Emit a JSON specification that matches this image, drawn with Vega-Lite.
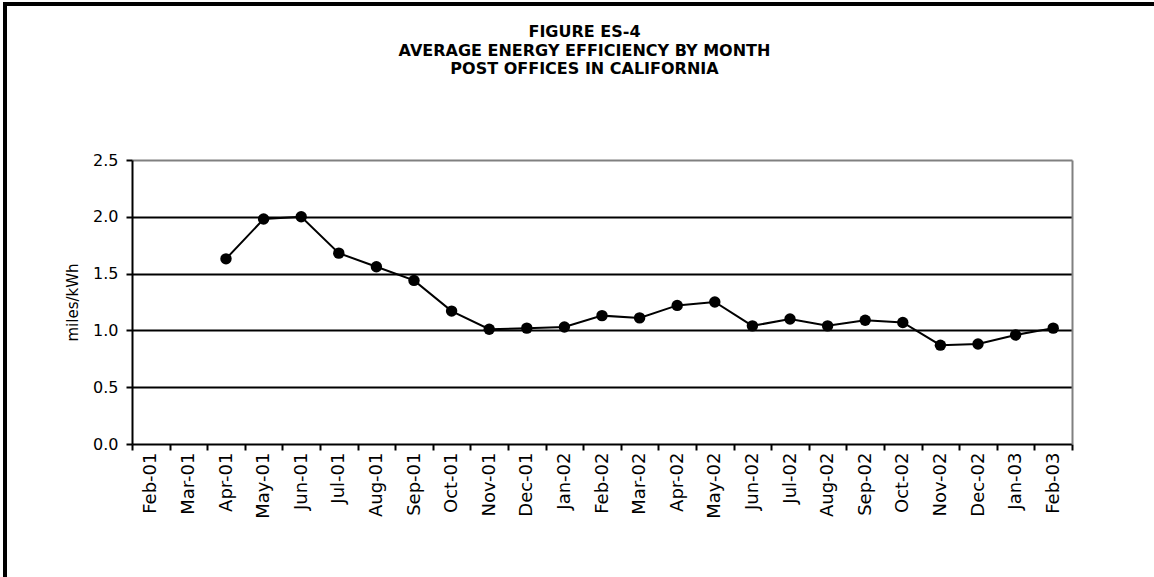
{
  "$schema": "https://vega.github.io/schema/vega-lite/v6.json",
  "width": 1151,
  "height": 575,
  "autosize": {"type": "none"},
  "padding": {"left": 5, "top": 4, "right": -2, "bottom": -2},
  "background": "white",
  "config": {
    "view": {"stroke": "black", "strokeWidth": 4, "fill": "white"},
    "font": "DejaVu Sans"
  },
  "title": {
    "text": ["FIGURE ES-4", "AVERAGE ENERGY EFFICIENCY BY MONTH", "POST OFFICES IN CALIFORNIA"],
    "anchor": "middle",
    "frame": "group",
    "font": "DejaVu Sans",
    "fontSize": 16,
    "fontWeight": "bold",
    "color": "black",
    "lineHeight": 18.5,
    "offset": -73,
    "dx": 4
  },
  "data": {
    "values": [
      {"month": "Feb-01", "efficiency": null},
      {"month": "Mar-01", "efficiency": null},
      {"month": "Apr-01", "efficiency": 1.63},
      {"month": "May-01", "efficiency": 1.98},
      {"month": "Jun-01", "efficiency": 2.00},
      {"month": "Jul-01", "efficiency": 1.68},
      {"month": "Aug-01", "efficiency": 1.56},
      {"month": "Sep-01", "efficiency": 1.44},
      {"month": "Oct-01", "efficiency": 1.17},
      {"month": "Nov-01", "efficiency": 1.01},
      {"month": "Dec-01", "efficiency": 1.02},
      {"month": "Jan-02", "efficiency": 1.03},
      {"month": "Feb-02", "efficiency": 1.13},
      {"month": "Mar-02", "efficiency": 1.11},
      {"month": "Apr-02", "efficiency": 1.22},
      {"month": "May-02", "efficiency": 1.25},
      {"month": "Jun-02", "efficiency": 1.04},
      {"month": "Jul-02", "efficiency": 1.10},
      {"month": "Aug-02", "efficiency": 1.04},
      {"month": "Sep-02", "efficiency": 1.09},
      {"month": "Oct-02", "efficiency": 1.07},
      {"month": "Nov-02", "efficiency": 0.87},
      {"month": "Dec-02", "efficiency": 0.88},
      {"month": "Jan-03", "efficiency": 0.96},
      {"month": "Feb-03", "efficiency": 1.02}
    ]
  },
  "layer": [
    {
      "mark": {"type": "line", "color": "black", "strokeWidth": 2},
      "encoding": {
        "x": {
          "field": "month",
          "type": "ordinal",
          "sort": null,
          "scale": {
            "type": "band",
            "domain": ["Feb-01", "Mar-01", "Apr-01", "May-01", "Jun-01", "Jul-01", "Aug-01", "Sep-01", "Oct-01", "Nov-01", "Dec-01", "Jan-02", "Feb-02", "Mar-02", "Apr-02", "May-02", "Jun-02", "Jul-02", "Aug-02", "Sep-02", "Oct-02", "Nov-02", "Dec-02", "Jan-03", "Feb-03"],
            "range": [127, 1067],
            "paddingInner": 0,
            "paddingOuter": 0
          },
          "axis": {
            "orient": "bottom",
            "offset": -135,
            "title": null,
            "grid": false,
            "domainColor": "black",
            "domainWidth": 2,
            "tickBand": "extent",
            "tickColor": "black",
            "tickWidth": 2,
            "tickSize": 6,
            "labelAngle": 270,
            "labelAlign": "right",
            "labelBaseline": "middle",
            "labelPadding": 2,
            "labelFont": "DejaVu Sans",
            "labelFontSize": 18,
            "labelColor": "black",
            "labelOverlap": false
          }
        },
        "y": {
          "field": "efficiency",
          "type": "quantitative",
          "scale": {"domain": [0, 2.5], "range": [440, 156], "nice": false, "zero": true},
          "axis": {
            "orient": "left",
            "offset": -127,
            "title": "miles/kWh",
            "titleFont": "DejaVu Sans",
            "titleFontSize": 15,
            "titleFontWeight": "normal",
            "titleColor": "black",
            "titlePadding": 12,
            "values": [0, 0.5, 1, 1.5, 2, 2.5],
            "format": ".1f",
            "domainColor": "black",
            "domainWidth": 2,
            "tickColor": "black",
            "tickWidth": 2,
            "tickSize": 6,
            "labelFont": "DejaVu Sans",
            "labelFontSize": 16,
            "labelColor": "black",
            "labelPadding": 8,
            "grid": true,
            "gridColor": {"condition": {"test": "datum.value >= 2.5 || datum.value <= 0", "value": "transparent"}, "value": "black"},
            "gridWidth": 2
          }
        }
      }
    },
    {
      "mark": {"type": "point", "filled": true, "color": "black", "size": 130, "opacity": 1},
      "encoding": {
        "x": {
          "field": "month",
          "type": "ordinal",
          "sort": null,
          "axis": {
            "orient": "top",
            "offset": -156,
            "title": null,
            "labels": false,
            "ticks": false,
            "grid": false,
            "domainColor": "#808080",
            "domainWidth": 2
          }
        },
        "y": {
          "field": "efficiency",
          "type": "quantitative",
          "axis": {
            "orient": "right",
            "offset": -84,
            "title": null,
            "labels": false,
            "ticks": false,
            "grid": false,
            "domainColor": "#808080",
            "domainWidth": 2
          }
        }
      }
    }
  ],
  "resolve": {"axis": {"x": "independent", "y": "independent"}}
}
